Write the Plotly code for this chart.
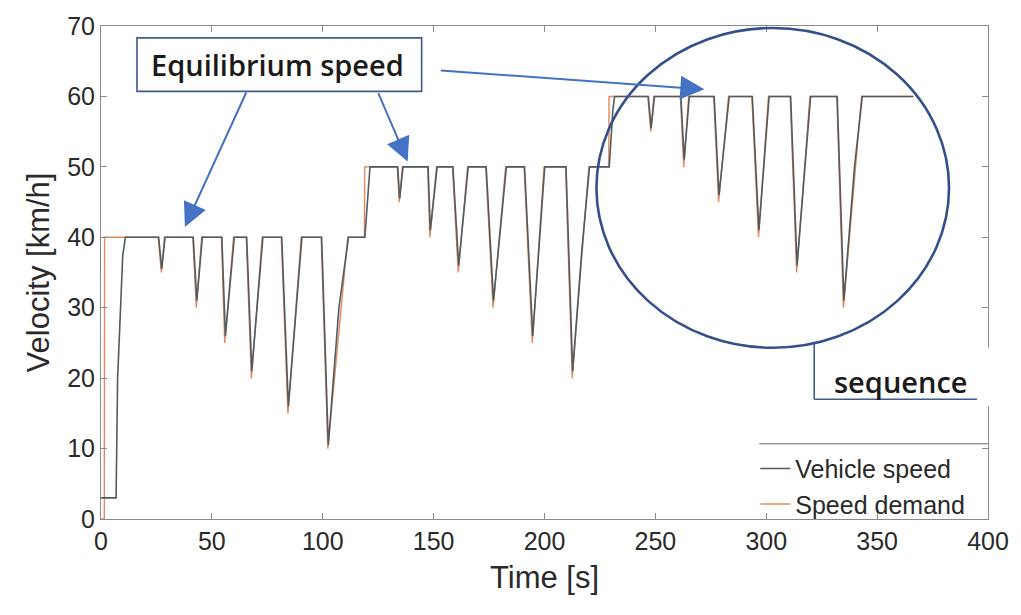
import plotly.graph_objects as go

# ---------------- data ----------------
demand_t = [0, 1.5, 1.6, 25.8, 27.2, 28.6, 41.4, 43.0, 45.4, 54.3, 55.8, 59.8,
            65.5, 67.8, 72.7, 81.3, 84.3, 90.3, 99.3, 102.3, 111.3, 118.8, 118.9,
            133.6, 134.5, 135.9, 147.3, 148.3, 151.3, 158.5, 161.1, 165.3,
            173.5, 176.8, 182.5, 190.8, 194.5, 199.8, 209.5, 212.5, 220.0,
            229.0, 229.1, 246.6, 247.9, 249.3, 261.3, 262.8, 265.0, 276.3, 278.5,
            283.0, 293.5, 296.5, 301.0, 310.8, 313.7, 319.7, 331.8, 334.8, 343.0, 366.3]
demand_v = [0, 0, 40, 40, 35, 40, 40, 30, 40, 40, 25, 40,
            40, 20, 40, 40, 15, 40, 40, 10, 40, 40, 50,
            50, 45, 50, 50, 40, 50, 50, 35, 50,
            50, 30, 50, 50, 25, 50, 50, 20, 50,
            50, 60, 60, 55, 60, 60, 50, 60, 60, 45,
            60, 60, 40, 60, 60, 35, 60, 60, 30, 60, 60]

vehicle_t = [0, 6.8, 7.5, 9.8, 11.0, 26.0, 27.4, 28.9, 41.6, 43.2, 45.7,
             54.5, 56.1, 60.1, 65.7, 68.0, 73.0, 81.5, 84.5, 90.6,
             99.5, 102.5, 107.3, 111.6, 119.0, 120.6, 121.3,
             133.8, 134.7, 136.2, 147.5, 148.5, 151.6, 158.7, 161.3, 165.6,
             173.7, 177.0, 182.8, 191.0, 194.7, 200.1, 209.7, 212.7, 216.8, 220.3,
             229.2, 230.8, 231.6, 246.8, 248.1, 249.6, 261.5, 263.0, 265.3,
             276.5, 278.7, 283.3, 293.7, 296.7, 301.3, 311.0, 313.9, 320.0,
             332.0, 335.0, 339.8, 343.3, 366.3]
vehicle_v = [3, 3, 20, 37.4, 40, 40, 35.5, 40, 40, 31, 40,
             40, 26, 40, 40, 21, 40, 40, 16, 40,
             40, 10.5, 30, 40, 40, 48, 50,
             50, 45.5, 50, 50, 41, 50, 50, 36, 50,
             50, 31, 50, 50, 26, 50, 50, 21, 38, 50,
             50, 58, 60, 60, 55.5, 60, 60, 51, 60,
             60, 46, 60, 60, 41, 60, 60, 36, 60,
             60, 31, 50, 60, 60]

x_ticks = [0, 50, 100, 150, 200, 250, 300, 350, 400]
y_ticks = [0, 10, 20, 30, 40, 50, 60, 70]

# ---------------- layout helpers (pixel -> paper) ----------------
W, H = 1021, 615
L, R, T, B = 101, 989, 21, 519


def px(x):
    return (x - L) / (R - L)


def py(y):
    return (B - y) / (B - T)


fig = go.Figure()
fig.add_trace(go.Scatter(x=demand_t, y=demand_v, mode="lines", name="Speed demand",
                         line=dict(color="#e08a5e", width=1.4)))
fig.add_trace(go.Scatter(x=vehicle_t, y=vehicle_v, mode="lines", name="Vehicle speed",
                         line=dict(color="#505c62", width=1.6)))

axis_common = dict(showline=True, linecolor="#8a8a8a", linewidth=1, mirror="ticks",
                   ticks="inside", ticklen=6, tickcolor="#8a8a8a", showgrid=False,
                   zeroline=False, tickfont=dict(family="Liberation Sans, Arial", size=25,
                                                 color="#2a2a2a"))

fig.update_layout(
    width=W, height=H,
    margin=dict(l=L, r=W - R, t=T, b=H - B),
    paper_bgcolor="white", plot_bgcolor="white",
    xaxis=dict(range=[0, 400], tickvals=x_ticks,
               title=dict(text="Time [s]", standoff=12,
                          font=dict(family="Liberation Sans, Arial", size=31, color="#2a2a2a")),
               **axis_common),
    yaxis=dict(range=[0, 70], tickvals=y_ticks,
               title=dict(text="Velocity [km/h]", standoff=8,
                          font=dict(family="Liberation Sans, Arial", size=31, color="#2a2a2a")),
               **axis_common),
    legend=dict(x=px(756), y=py(445), xanchor="left", yanchor="top",
                bgcolor="rgba(255,255,255,0)", borderwidth=0, traceorder="reversed",
                font=dict(family="Liberation Sans, Arial", size=25, color="#2a2a2a"),
                itemwidth=30, tracegroupgap=0),
    showlegend=True,
)

box_col = "#3f5a8f"
arrow_col = "#4472c4"

shapes = [
    # legend top border
    dict(type="line", xref="paper", yref="paper", x0=px(760), x1=px(989),
         y0=py(443), y1=py(443), line=dict(color="#6a6a6a", width=1.2), layer="above"),
    # Equilibrium speed box
    dict(type="rect", xref="paper", yref="paper", x0=px(137), x1=px(422),
         y0=py(87), y1=py(33), fillcolor="white", line=dict(color=box_col, width=1.6),
         layer="above"),
    # ellipse
    dict(type="circle", xref="paper", yref="paper", x0=px(597), x1=px(950),
         y0=py(346), y1=py(23), line=dict(color="#34508a", width=2.6), layer="above"),
    # sequence box (white cover + left & bottom borders)
    dict(type="rect", xref="paper", yref="paper", x0=px(817), x1=px(1000),
         y0=py(405), y1=py(346), fillcolor="white", line=dict(width=0), layer="above"),
    dict(type="line", xref="paper", yref="paper", x0=px(815), x1=px(815),
         y0=py(341), y1=py(398), line=dict(color=box_col, width=1.6), layer="above"),
    dict(type="line", xref="paper", yref="paper", x0=px(815), x1=px(978),
         y0=py(398), y1=py(398), line=dict(color=box_col, width=1.6), layer="above"),
]
fig.update_layout(shapes=shapes)

ann_font = dict(family="Open Sans, Noto Sans", size=29, color="#1a1a1a", weight=600)
annotations = [
    dict(xref="paper", yref="paper", x=px(278), y=py(60), text="Equilibrium speed",
         showarrow=False, font=ann_font, xanchor="center", yanchor="middle"),
    dict(xref="paper", yref="paper", x=px(902), y=py(380), text="sequence",
         showarrow=False, font=ann_font, xanchor="center", yanchor="middle"),
]
for (tx, ty), (hx, hy) in [((247, 88), (185, 224)), ((378, 88), (408, 158)),
                           ((440, 66), (705, 85))]:
    annotations.append(dict(xref="paper", yref="paper", x=px(hx), y=py(hy), text="",
                            showarrow=True, ax=tx - hx, ay=ty - hy, axref="pixel",
                            ayref="pixel", arrowhead=2, arrowsize=2.4, arrowwidth=2,
                            arrowcolor=arrow_col))
fig.update_layout(annotations=annotations)

fig.write_html("out.html")
